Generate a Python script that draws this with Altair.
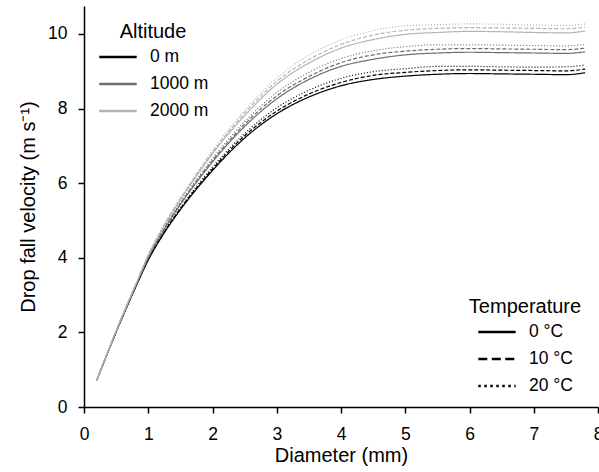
import altair as alt
import pandas as pd

diameter = [0.2, 0.4, 0.6, 0.8, 1.0, 1.25, 1.5, 1.75, 2.0, 2.5, 3.0, 3.5,
            4.0, 4.5, 5.0, 5.5, 6.0, 6.5, 7.0, 7.5, 7.8]

altitudes = ["0 m", "1000 m", "2000 m"]
temperatures = ["0 °C", "10 °C", "20 °C"]

v_0m_0C = [0.72, 1.59, 2.42, 3.20, 3.94, 4.67, 5.29, 5.84, 6.34, 7.21, 7.86, 8.31,
           8.61, 8.78, 8.87, 8.92, 8.94, 8.93, 8.92, 8.91, 8.96]
v_0m_10C = [0.72, 1.59, 2.42, 3.21, 3.95, 4.69, 5.32, 5.87, 6.38, 7.27, 7.93, 8.39,
            8.70, 8.89, 8.97, 9.02, 9.04, 9.03, 9.02, 9.01, 9.06]
v_0m_20C = [0.72, 1.59, 2.43, 3.21, 3.96, 4.71, 5.34, 5.91, 6.43, 7.33, 8.02, 8.49,
            8.81, 8.99, 9.07, 9.13, 9.13, 9.12, 9.11, 9.12, 9.17]

v_1000m_0C = [0.72, 1.60, 2.44, 3.23, 4.00, 4.76, 5.43, 6.02, 6.57, 7.52, 8.26, 8.78,
              9.13, 9.32, 9.44, 9.49, 9.51, 9.50, 9.49, 9.48, 9.52]
v_1000m_10C = [0.72, 1.60, 2.44, 3.24, 4.01, 4.78, 5.45, 6.06, 6.61, 7.58, 8.34, 8.86,
               9.23, 9.44, 9.54, 9.59, 9.61, 9.60, 9.59, 9.58, 9.62]
v_1000m_20C = [0.72, 1.60, 2.45, 3.25, 4.02, 4.80, 5.48, 6.09, 6.66, 7.65, 8.43, 8.97,
               9.34, 9.55, 9.66, 9.71, 9.71, 9.70, 9.69, 9.68, 9.72]

v_2000m_0C = [0.72, 1.61, 2.46, 3.26, 4.06, 4.86, 5.55, 6.19, 6.79, 7.81, 8.65, 9.22,
              9.62, 9.85, 9.99, 10.04, 10.07, 10.06, 10.04, 10.03, 10.08]
v_2000m_10C = [0.72, 1.61, 2.46, 3.27, 4.07, 4.88, 5.58, 6.23, 6.83, 7.88, 8.73, 9.31,
               9.72, 9.97, 10.10, 10.15, 10.17, 10.16, 10.15, 10.14, 10.18]
v_2000m_20C = [0.72, 1.61, 2.47, 3.28, 4.08, 4.90, 5.61, 6.26, 6.88, 7.95, 8.82, 9.43,
               9.84, 10.09, 10.22, 10.25, 10.27, 10.26, 10.24, 10.23, 10.27]

series = [
    ("0 m", "0 °C", v_0m_0C), ("0 m", "10 °C", v_0m_10C), ("0 m", "20 °C", v_0m_20C),
    ("1000 m", "0 °C", v_1000m_0C), ("1000 m", "10 °C", v_1000m_10C), ("1000 m", "20 °C", v_1000m_20C),
    ("2000 m", "0 °C", v_2000m_0C), ("2000 m", "10 °C", v_2000m_10C), ("2000 m", "20 °C", v_2000m_20C),
]

rows = []
for a, t, vals in series:
    for d, v in zip(diameter, vals):
        rows.append({"diameter": d, "velocity": v, "altitude": a, "temperature": t})
df = pd.DataFrame(rows)

colors = ["#000000", "#6e6e6e", "#b4b4b4"]
line_dashes = [[1, 0], [4, 2], [1, 2]]
legend_dashes = [[1, 0], [9, 4.5], [2.5, 3.5]]

FONT = "Liberation Sans"

x_enc = alt.X("diameter:Q",
              scale=alt.Scale(domain=[0, 8], nice=False, zero=False),
              axis=alt.Axis(title="Diameter (mm)", values=[0, 1, 2, 3, 4, 5, 6, 7, 8],
                            format="d", labelPadding=12, titlePadding=3, labelFlush=False))
y_enc = alt.Y("velocity:Q",
              scale=alt.Scale(domain=[0, 10.75], nice=False),
              axis=alt.Axis(title="Drop fall velocity (m s\u207b\u00b9)", values=[0, 2, 4, 6, 8, 10],
                            format="d", labelPadding=11, titlePadding=9, labelFlush=False))

base = alt.Chart(df)

lines = base.mark_line(strokeWidth=1.2, interpolate="monotone").encode(
    x=x_enc,
    y=y_enc,
    color=alt.Color("altitude:N",
                    scale=alt.Scale(domain=altitudes, range=colors),
                    legend=alt.Legend(title="Altitude", orient="none", legendX=14, legendY=16)),
    strokeDash=alt.StrokeDash("temperature:N",
                              scale=alt.Scale(domain=temperatures, range=line_dashes),
                              legend=None),
    order=alt.Order("diameter:Q"),
)

# legend-only layer for temperature (draws nothing, only provides the legend)
temp_legend = base.transform_filter("datum.diameter < 0").mark_line(strokeWidth=2.5).encode(
    x=x_enc,
    y=y_enc,
    strokeDash=alt.StrokeDash("temperature:N",
                              scale=alt.Scale(domain=temperatures, range=legend_dashes),
                              legend=alt.Legend(title="Temperature", orient="none",
                                                legendX=385, legendY=291,
                                                symbolStrokeColor="black")),
)

chart = alt.layer(lines, temp_legend).resolve_scale(
    strokeDash="independent"
).properties(
    width=514, height=401,
    autosize=alt.AutoSizeParams(type="none"),
    padding={"left": 84, "top": 6, "right": 1, "bottom": 65},
).configure_view(
    stroke=None
).configure_axis(
    grid=False,
    domainColor="black", domainWidth=1.5,
    tickColor="black", tickWidth=1.5, tickSize=6,
    labelFont=FONT, labelFontSize=17.5, labelColor="black",
    titleFont=FONT, titleFontSize=20, titleFontWeight="normal", titleColor="black",
).configure_legend(
    titleFont=FONT, titleFontSize=20, titleFontWeight="normal", titleColor="black",
    titleAnchor="middle",
    labelFont=FONT, labelFontSize=17.5, labelColor="black",
    labelOffset=12,
    symbolType="stroke", symbolSize=1400, symbolStrokeWidth=2.5,
    clipHeight=16, rowPadding=9, titlePadding=7, padding=0, offset=0,
)

chart.save("out.html", embed_options={"renderer": "svg", "actions": False})
